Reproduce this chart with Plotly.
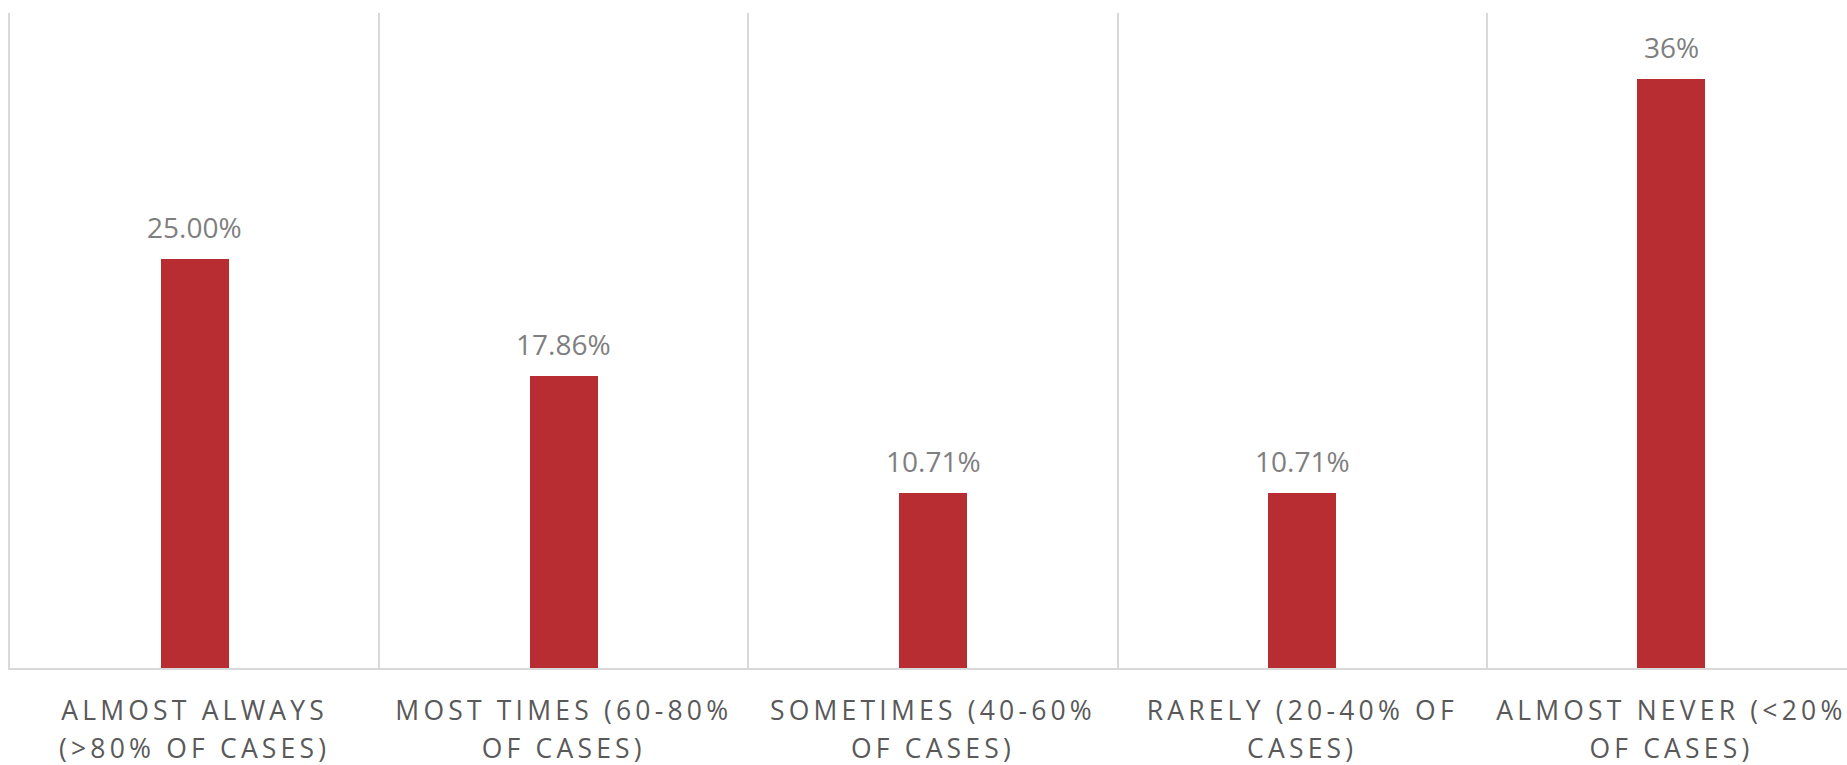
import plotly.graph_objects as go

# Response categories (tick labels, wrapped onto two lines)
categories = [
    "ALMOST ALWAYS<br>(&gt;80% OF CASES)",
    "MOST TIMES (60-80%<br>OF CASES)",
    "SOMETIMES (40-60%<br>OF CASES)",
    "RARELY (20-40% OF<br>CASES)",
    "ALMOST NEVER (&lt;20%<br>OF CASES)",
]
# Share of respondents, in percent
values = [25.00, 17.86, 10.71, 10.71, 36]
# Data labels shown above the bars
value_labels = ["25.00%", "17.86%", "10.71%", "10.71%", "36%"]

BAR_COLOR = "#B72D32"
GRID_COLOR = "#D9D9D9"
LABEL_GRAY = "#7F7F7F"
AXIS_TEXT = "#595959"

fig = go.Figure(
    go.Bar(
        x=categories,
        y=values,
        width=0.184,
        marker=dict(color=BAR_COLOR, line=dict(width=0)),
        hoverinfo="skip",
    )
)

for cat, val, lab in zip(categories, values, value_labels):
    fig.add_annotation(
        x=cat, y=val, text=lab, showarrow=False,
        xanchor="center", yanchor="bottom", yshift=11,
        font=dict(family="Open Sans", size=28, color=LABEL_GRAY),
    )

fig.update_layout(
    width=1847,
    height=765,
    margin=dict(l=10, r=0, t=13, b=97),
    paper_bgcolor="white",
    plot_bgcolor="white",
    showlegend=False,
    bargap=0,
)

fig.update_xaxes(
    type="category",
    range=[-0.5, 4.4756],
    tickson="boundaries",
    showgrid=True,
    gridcolor=GRID_COLOR,
    gridwidth=1.5,
    showline=True,
    linecolor=GRID_COLOR,
    linewidth=1.5,
    ticks="",
    ticklabelstandoff=18,
    tickfont=dict(family="Open Sans", size=26.5, color=AXIS_TEXT),
    zeroline=False,
    fixedrange=True,
)
fig.update_yaxes(
    range=[0, 40],
    showgrid=False,
    showticklabels=False,
    showline=True,
    linecolor=GRID_COLOR,
    linewidth=1.5,
    zeroline=False,
    fixedrange=True,
)

# Category labels: wider letter spacing and a looser line height
post_script = """
var gd = document.getElementById('{plot_id}');
function styleTicks() {
  gd.querySelectorAll('.xtick text').forEach(function (t) {
    t.style.letterSpacing = '4.2px';
    t.querySelectorAll('tspan.line').forEach(function (s) {
      var dy = s.getAttribute('dy');
      if (dy && dy.indexOf('em') > 0 && !s.dataset.spaced) {
        var v = parseFloat(dy);
        s.setAttribute('dy', (v * 1.45 / 1.3) + 'em');
        s.dataset.spaced = '1';
      }
    });
  });
}
styleTicks();
gd.on('plotly_afterplot', styleTicks);
"""

fig.write_html("out.html", config={"displayModeBar": False}, post_script=post_script)
